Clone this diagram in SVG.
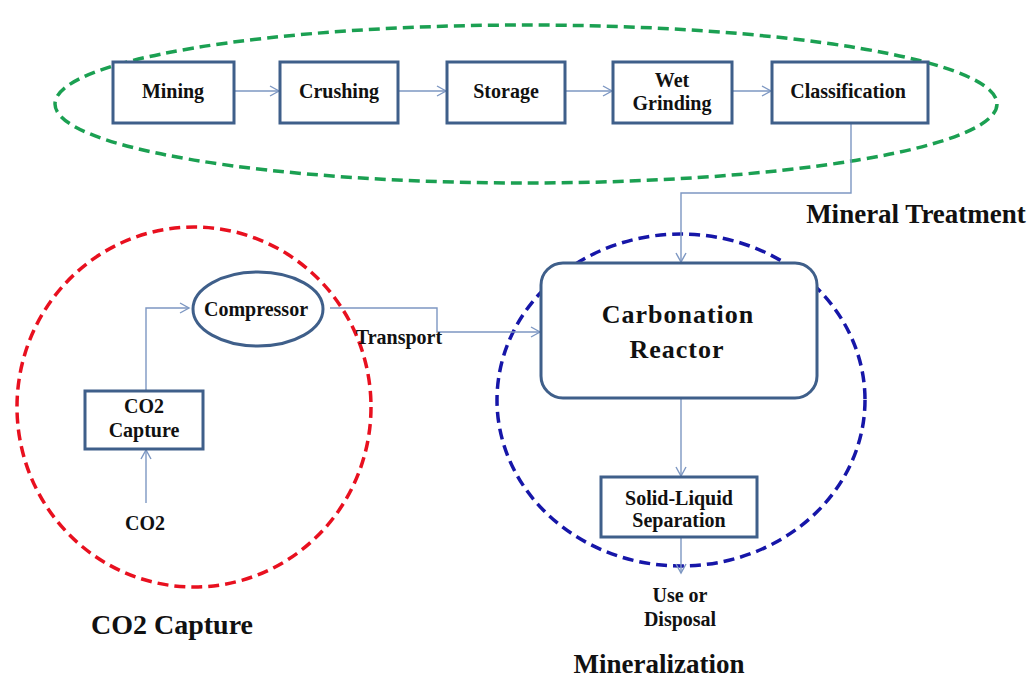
<svg xmlns="http://www.w3.org/2000/svg" width="1032" height="681" viewBox="0 0 1032 681">
<style>
.box{fill:#fff;stroke:#3f5f8a;stroke-width:3}
.t{font-family:'Liberation Serif','Times New Roman','DejaVu Serif',serif;font-weight:700;fill:#111;text-anchor:middle}
.s{font-size:20px}
.c{fill:none;stroke:#7d97c2;stroke-width:1.4}
.zone{fill:none;stroke-width:3.5;stroke-dasharray:11 6}
</style>
<defs>
<marker id="ah" markerWidth="12" markerHeight="12" refX="10" refY="6" orient="auto" markerUnits="userSpaceOnUse">
<path d="M1,1 L10,6 L1,11" fill="none" stroke="#7d97c2" stroke-width="1.4"/>
</marker>
</defs>
<rect width="1032" height="681" fill="#fff"/>
<g id="zones">
<ellipse class="zone" cx="526" cy="104" rx="471" ry="79" stroke="#1ba052"/>
<ellipse class="zone" cx="194" cy="407" rx="177" ry="180" stroke="#e8101f"/>
<ellipse class="zone" cx="681" cy="400" rx="184" ry="166" stroke="#1616a8"/>
</g>
<g id="connectors">
<line class="c" x1="234" y1="91" x2="279" y2="91" marker-end="url(#ah)"/>
<line class="c" x1="398" y1="91" x2="446" y2="91" marker-end="url(#ah)"/>
<line class="c" x1="565" y1="91" x2="612" y2="91" marker-end="url(#ah)"/>
<line class="c" x1="732" y1="91" x2="771" y2="91" marker-end="url(#ah)"/>
<polyline class="c" points="851,123 851,193 681,193 681,262" marker-end="url(#ah)"/>
<polyline class="c" points="146,390 146,308 189,308" marker-end="url(#ah)"/>
<polyline class="c" points="330,308 437,308 437,332 540,332" marker-end="url(#ah)"/>
<line class="c" x1="146" y1="503" x2="146" y2="450" marker-end="url(#ah)"/>
<line class="c" x1="681" y1="398" x2="681" y2="476" marker-end="url(#ah)"/>
<line class="c" x1="681" y1="537" x2="681" y2="573" marker-end="url(#ah)"/>
</g>
<g id="mining"><rect class="box" x="113" y="62" width="121" height="61"/><text class="t s" x="173" y="98">Mining</text></g>
<g id="crushing"><rect class="box" x="280" y="62" width="118" height="61"/><text class="t s" x="339" y="98">Crushing</text></g>
<g id="storage"><rect class="box" x="447" y="62" width="118" height="61"/><text class="t s" x="506" y="98">Storage</text></g>
<g id="wetgrinding"><rect class="box" x="613" y="62" width="119" height="61"/><text class="t s" x="672" y="87">Wet</text><text class="t s" x="672" y="110">Grinding</text></g>
<g id="classification"><rect class="box" x="772" y="62" width="156" height="61"/><text class="t s" x="848" y="98">Classification</text></g>
<g id="compressor"><ellipse class="box" cx="258" cy="309" rx="65" ry="37"/><text class="t s" x="256" y="316">Compressor</text></g>
<g id="co2capture"><rect class="box" x="85" y="391" width="118" height="58"/><text class="t s" x="144" y="413">CO2</text><text class="t s" x="144" y="437">Capture</text></g>
<g id="co2"><text class="t s" x="145" y="530">CO2</text></g>
<g id="transport"><text class="t s" x="399" y="344">Transport</text></g>
<g id="reactor"><rect class="box" x="541" y="263" width="276" height="135" rx="22"/><text class="t" font-size="26" x="678" y="323" letter-spacing="1">Carbonation</text><text class="t" font-size="26" x="677" y="358" letter-spacing="1">Reactor</text></g>
<g id="separation"><rect class="box" x="601" y="477" width="156" height="60"/><text class="t s" x="679" y="505">Solid-Liquid</text><text class="t s" x="679" y="527">Separation</text></g>
<g id="use"><text class="t s" x="680" y="602">Use or</text><text class="t s" x="680" y="626">Disposal</text></g>
<g id="labels">
<text class="t" font-size="27" x="916" y="223">Mineral Treatment</text>
<text class="t" font-size="28" x="172" y="634">CO2 Capture</text>
<text class="t" font-size="27" x="659" y="673">Mineralization</text>
</g>
</svg>
